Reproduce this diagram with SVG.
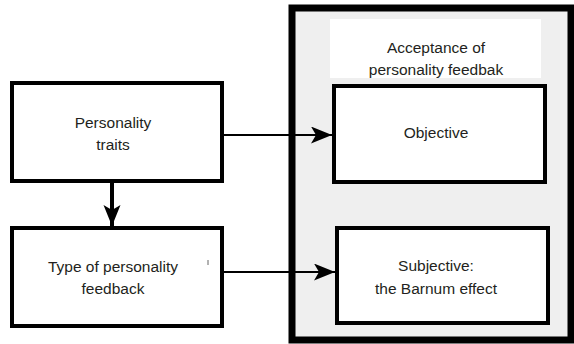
<svg xmlns="http://www.w3.org/2000/svg" width="574" height="344" viewBox="0 0 574 344">
<style>
.box{fill:#fff;stroke:#000;stroke-width:4}
.t{font-family:"Liberation Sans",Arial,sans-serif;font-size:15.5px;fill:#231f20;text-anchor:middle}
.c{stroke:#000;stroke-width:2;fill:none}
</style>
<defs>
<marker id="ah" markerWidth="22" markerHeight="18" refX="21" refY="8.5" orient="auto" markerUnits="userSpaceOnUse">
<path d="M0,0 L21,8.5 L0,17 L5,8.5 Z" fill="#000"/>
</marker>
</defs>
<rect width="574" height="344" fill="#fff"/>
<g id="panel">
<rect x="292" y="8" width="279" height="332" fill="#efefef" stroke="#000" stroke-width="7"/>
<rect x="330" y="19" width="211" height="59" fill="#fff"/>
<text class="t" x="436" y="53">Acceptance of</text>
<text class="t" x="436" y="75">personality feedbak</text>
</g>
<g id="objective">
<rect class="box" x="334" y="86" width="211" height="96"/>
<text class="t" x="436" y="138">Objective</text>
</g>
<g id="subjective">
<rect class="box" x="337" y="228" width="211" height="95"/>
<text class="t" x="436" y="271">Subjective:</text>
<text class="t" x="436" y="294">the Barnum effect</text>
</g>
<g id="traits">
<rect class="box" x="12" y="83" width="210" height="98"/>
<text class="t" x="113" y="128">Personality</text>
<text class="t" x="113" y="150">traits</text>
</g>
<g id="type">
<rect class="box" x="12" y="228" width="210" height="98"/>
<text class="t" x="113" y="272">Type of personality</text>
<text class="t" x="113" y="294">feedback</text>
</g>
<g id="connectors">
<line class="c" x1="224" y1="135" x2="332" y2="135" marker-end="url(#ah)"/>
<line class="c" x1="224" y1="272" x2="335" y2="272" marker-end="url(#ah)"/>
<line class="c" style="stroke-width:4" x1="112" y1="183" x2="112" y2="226" marker-end="url(#ah)"/>
</g>
<line x1="208" y1="260" x2="208" y2="265" stroke="#666" stroke-width="1"/>
</svg>
